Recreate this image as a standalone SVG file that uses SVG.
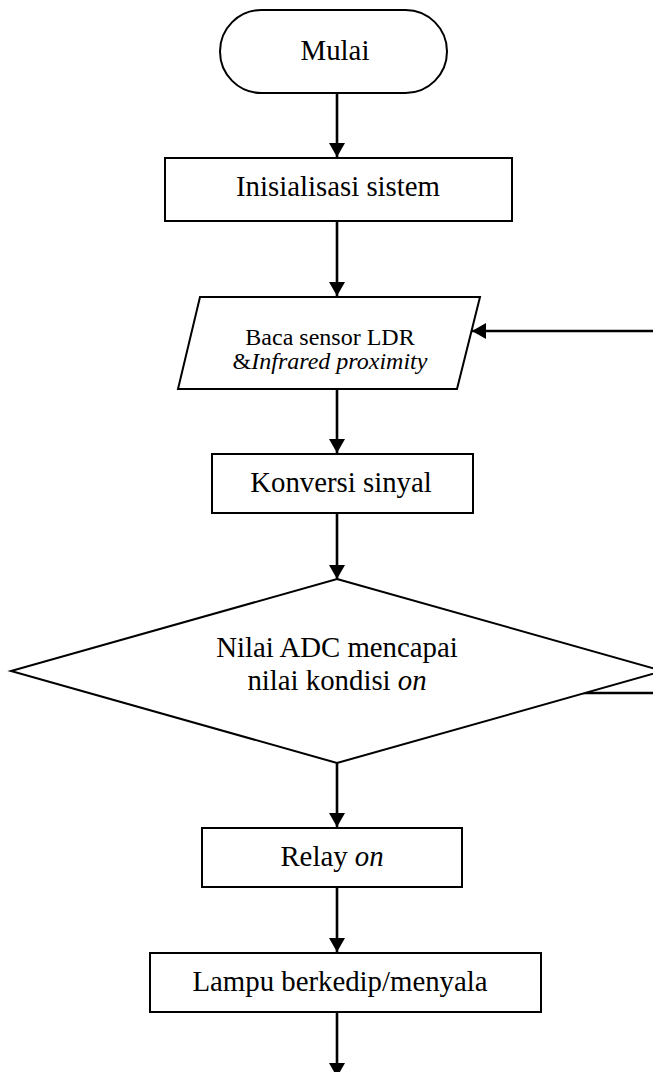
<svg xmlns="http://www.w3.org/2000/svg" width="653" height="1072" viewBox="0 0 653 1072">
<style>
.shape{fill:#fff;stroke:#000;stroke-width:2}
.t{font-family:"Liberation Serif","Times New Roman",serif;font-size:28.8px;fill:#000;text-anchor:middle}
.s{font-family:"Liberation Serif","Times New Roman",serif;font-size:24px;fill:#000;text-anchor:middle}
.i{font-style:italic}
.c{fill:none;stroke:#000;stroke-width:2.6}
</style>
<defs>
<marker id="ah" markerUnits="userSpaceOnUse" markerWidth="16" markerHeight="16" viewBox="0 0 16 16" refX="14" refY="8" orient="auto">
<path d="M0,0 L14,8 L0,16 Z" fill="#000"/>
</marker>
</defs>
<rect width="653" height="1072" fill="#fff"/>
<g id="connectors">
<line class="c" x1="337" y1="93" x2="337" y2="157" marker-end="url(#ah)"/>
<line class="c" x1="337" y1="221" x2="337" y2="296" marker-end="url(#ah)"/>
<line class="c" x1="337" y1="389" x2="337" y2="453" marker-end="url(#ah)"/>
<line class="c" x1="337" y1="513" x2="337" y2="579" marker-end="url(#ah)"/>
<line class="c" x1="337" y1="763" x2="337" y2="827" marker-end="url(#ah)"/>
<line class="c" x1="337" y1="887" x2="337" y2="952" marker-end="url(#ah)"/>
<line class="c" x1="337" y1="1012" x2="337" y2="1077" marker-end="url(#ah)"/>
<line class="c" x1="583" y1="693" x2="653" y2="693"/>
<line class="c" x1="653" y1="331" x2="472" y2="331" marker-end="url(#ah)"/>
</g>
<g id="mulai">
<rect class="shape" x="220" y="10" width="227" height="83" rx="41.5"/>
<text class="t" x="335" y="60">Mulai</text>
</g>
<g id="inisialisasi">
<rect class="shape" x="165" y="158" width="347" height="63"/>
<text class="t" x="338" y="196">Inisialisasi sistem</text>
</g>
<g id="baca">
<polygon class="shape" points="200,297 480,297 457,389 178,389"/>
<text class="s" x="330" y="345">Baca sensor LDR</text>
<text class="s" x="330" y="369">&amp;<tspan class="i">Infrared proximity</tspan></text>
</g>
<g id="konversi">
<rect class="shape" x="212" y="454" width="261" height="59"/>
<text class="t" x="341" y="492">Konversi sinyal</text>
</g>
<g id="keputusan">
<polygon class="shape" points="337,579 663,671 337,763 11,671"/>
<text class="t" x="337" y="657">Nilai ADC mencapai</text>
<text class="t" x="337" y="690">nilai kondisi <tspan class="i">on</tspan></text>
</g>
<g id="relay">
<rect class="shape" x="202" y="828" width="260" height="59"/>
<text class="t" x="332" y="866">Relay <tspan class="i">on</tspan></text>
</g>
<g id="lampu">
<rect class="shape" x="150" y="953" width="391" height="59"/>
<text class="t" x="340" y="991">Lampu berkedip/menyala</text>
</g>
</svg>
